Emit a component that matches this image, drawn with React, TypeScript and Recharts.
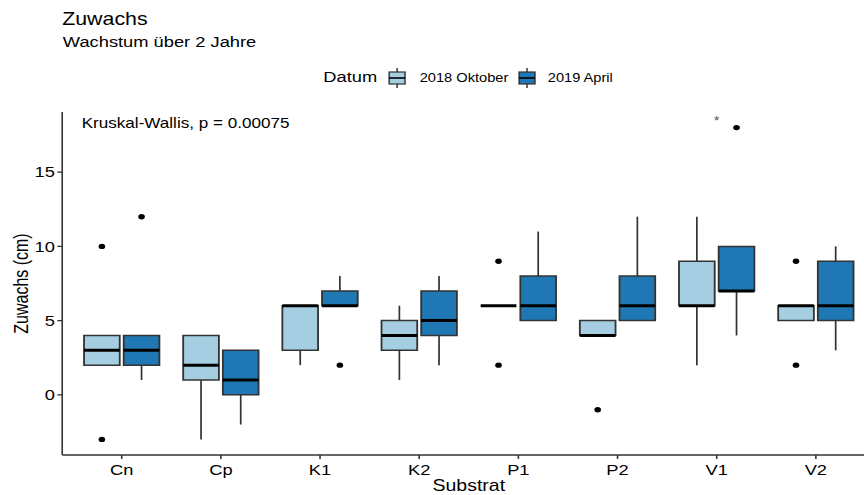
import React from 'react';
import {
  ComposedChart,
  XAxis,
  YAxis,
  Scatter,
  ReferenceArea,
  ReferenceLine,
  ReferenceDot,
} from 'recharts';

// categories on the x axis
const substrates = ['Cn', 'Cp', 'K1', 'K2', 'P1', 'P2', 'V1', 'V2'];
const yTicks = [0, 5, 10, 15];

// 2018 Oktober
const oktQ1 = [2, 1, 3, 3, 6, 4, 6, 5];
const oktMedian = [3, 2, 6, 4, 6, 4, 6, 6];
const oktQ3 = [4, 4, 6, 5, 6, 5, 9, 6];
const oktLow = [2, -3, 2, 1, 6, 4, 2, 5];
const oktHigh = [4, 4, 6, 6, 6, 5, 12, 6];
const oktOutliers = [[10, -3], [], [], [], [9, 2], [-1], [], [9, 2]];

// 2019 April
const aprQ1 = [2, 0, 6, 4, 5, 5, 7, 5];
const aprMedian = [3, 1, 6, 5, 6, 6, 7, 6];
const aprQ3 = [4, 3, 7, 7, 8, 8, 10, 9];
const aprLow = [1, -2, 6, 2, 5, 5, 4, 3];
const aprHigh = [4, 3, 8, 8, 11, 12, 10, 10];
const aprOutliers = [[12], [], [2], [], [], [], [18], []];

// significance marks
const starGroups = ['V1'];
const starY = [18.45];

const SX = 1.22; // the reference is stretched horizontally
const FONT = '"Liberation Sans", Arial, sans-serif';
const BOX_W = 0.36;
const EDGE = '#333';

const series = [
  { name: '2018 Oktober', color: '#A6CEE3', offset: -0.2, q1: oktQ1, med: oktMedian, q3: oktQ3, lo: oktLow, hi: oktHigh, out: oktOutliers },
  { name: '2019 April', color: '#1F78B4', offset: 0.2, q1: aprQ1, med: aprMedian, q3: aprQ3, lo: aprLow, hi: aprHigh, out: aprOutliers },
];

const outlierData = series.flatMap((s) =>
  s.out.flatMap((vals, i) => vals.map((v) => ({ x: i + 1 + s.offset, y: v })))
);

const Dot = (props: any) => <circle cx={props.cx} cy={props.cy} r={2.7} fill="#000" />;

const LegendIcon = ({ x, color }: { x: number; color: string }) => (
  <g>
    <line x1={x + 6.5} x2={x + 6.5} y1={68} y2={88} stroke={EDGE} strokeWidth={1.2} />
    <rect x={x} y={72} width={13} height={12} fill={color} stroke={EDGE} strokeWidth={1.2} />
    <line x1={x} x2={x + 13} y1={78} y2={78} stroke="#000" strokeWidth={1.6} />
  </g>
);

export default function App() {
  return (
    <div style={{ position: 'absolute', left: 0, top: 0, width: 864, height: 495, overflow: 'hidden', background: '#fff' }}>
      <div style={{ position: 'relative', width: 720, height: 495, transform: `scaleX(${SX})`, transformOrigin: '0 0', fontFamily: FONT }}>
        <ComposedChart width={720} height={495} margin={{ top: 112, right: 2.5, left: 0, bottom: 0 }}>
          <XAxis
            type="number"
            dataKey="x"
            domain={[0.4, 8.6]}
            ticks={[1, 2, 3, 4, 5, 6, 7, 8]}
            tickFormatter={(v: number) => substrates[v - 1]}
            allowDataOverflow
            height={40}
            tickSize={4}
            tickMargin={5}
            axisLine={{ stroke: EDGE, strokeWidth: 1.3 }}
            tickLine={{ stroke: EDGE, strokeWidth: 1.3 }}
            tick={{ fill: '#000', fontSize: 15, fontFamily: FONT }}
            label={{
              content: (p: any) => (
                <text x={p.viewBox.x + p.viewBox.width / 2} y={p.viewBox.y + 36} textAnchor="middle" fontSize={16} fontFamily={FONT} fill="#000">
                  Substrat
                </text>
              ),
            }}
          />
          <YAxis
            type="number"
            dataKey="y"
            domain={[-4.05, 19.05]}
            ticks={yTicks}
            allowDataOverflow
            width={51}
            tickSize={4}
            tickMargin={2}
            axisLine={{ stroke: EDGE, strokeWidth: 1.3 }}
            tickLine={{ stroke: EDGE, strokeWidth: 1.3 }}
            tick={{ fill: '#000', fontSize: 15, fontFamily: FONT }}
            label={{
              content: (p: any) => {
                const cy = p.viewBox.y + p.viewBox.height / 2;
                return (
                  <text x={23} y={cy} transform={`rotate(-90 23 ${cy})`} textAnchor="middle" fontSize={16} fontFamily={FONT} fill="#000">
                    Zuwachs (cm)
                  </text>
                );
              },
            }}
          />
          {series.flatMap((s) =>
            substrates.map((c, i) => {
              const cx = i + 1 + s.offset;
              return (
                <React.Fragment key={`w-${s.name}-${c}`}>
                  {s.hi[i] > s.q3[i] && (
                    <ReferenceLine segment={[{ x: cx, y: s.q3[i] }, { x: cx, y: s.hi[i] }]} stroke={EDGE} strokeWidth={1.4} ifOverflow="visible" />
                  )}
                  {s.lo[i] < s.q1[i] && (
                    <ReferenceLine segment={[{ x: cx, y: s.lo[i] }, { x: cx, y: s.q1[i] }]} stroke={EDGE} strokeWidth={1.4} ifOverflow="visible" />
                  )}
                </React.Fragment>
              );
            })
          )}
          {series.flatMap((s) =>
            substrates.map((c, i) => {
              const cx = i + 1 + s.offset;
              return (
                <ReferenceArea
                  key={`b-${s.name}-${c}`}
                  x1={cx - BOX_W / 2}
                  x2={cx + BOX_W / 2}
                  y1={s.q1[i]}
                  y2={s.q3[i]}
                  fill={s.color}
                  fillOpacity={1}
                  stroke={EDGE}
                  strokeWidth={1.5}
                  ifOverflow="visible"
                />
              );
            })
          )}
          {series.flatMap((s) =>
            substrates.map((c, i) => {
              const cx = i + 1 + s.offset;
              return (
                <ReferenceLine
                  key={`m-${s.name}-${c}`}
                  segment={[{ x: cx - BOX_W / 2, y: s.med[i] }, { x: cx + BOX_W / 2, y: s.med[i] }]}
                  stroke="#000"
                  strokeWidth={3}
                  ifOverflow="visible"
                />
              );
            })
          )}
          <Scatter data={outlierData} dataKey="y" shape={Dot} isAnimationActive={false} />
          {starGroups.map((g, k) => (
            <ReferenceDot
              key={`s-${g}`}
              x={substrates.indexOf(g) + 1}
              y={starY[k]}
              r={0}
              ifOverflow="visible"
              label={{ value: '*', position: 'center', fontSize: 12, fill: '#555', fontFamily: FONT }}
            />
          ))}
        </ComposedChart>
        <svg width={720} height={140} style={{ position: 'absolute', left: 0, top: 0, pointerEvents: 'none' }} fontFamily={FONT}>
          <text x={51} y={25} fontSize={17.5} fill="#000">Zuwachs</text>
          <text x={51.5} y={47} fontSize={15} fill="#000">Wachstum über 2 Jahre</text>
          <text x={265} y={82.5} fontSize={15} fill="#000">Datum</text>
          <LegendIcon x={319} color={series[0].color} />
          <text x={344} y={82} fontSize={12} fill="#000">{series[0].name}</text>
          <LegendIcon x={425.5} color={series[1].color} />
          <text x={449} y={82} fontSize={12} fill="#000">{series[1].name}</text>
          <text x={67} y={128} fontSize={14} fill="#000">Kruskal-Wallis, p = 0.00075</text>
        </svg>
      </div>
    </div>
  );
}
